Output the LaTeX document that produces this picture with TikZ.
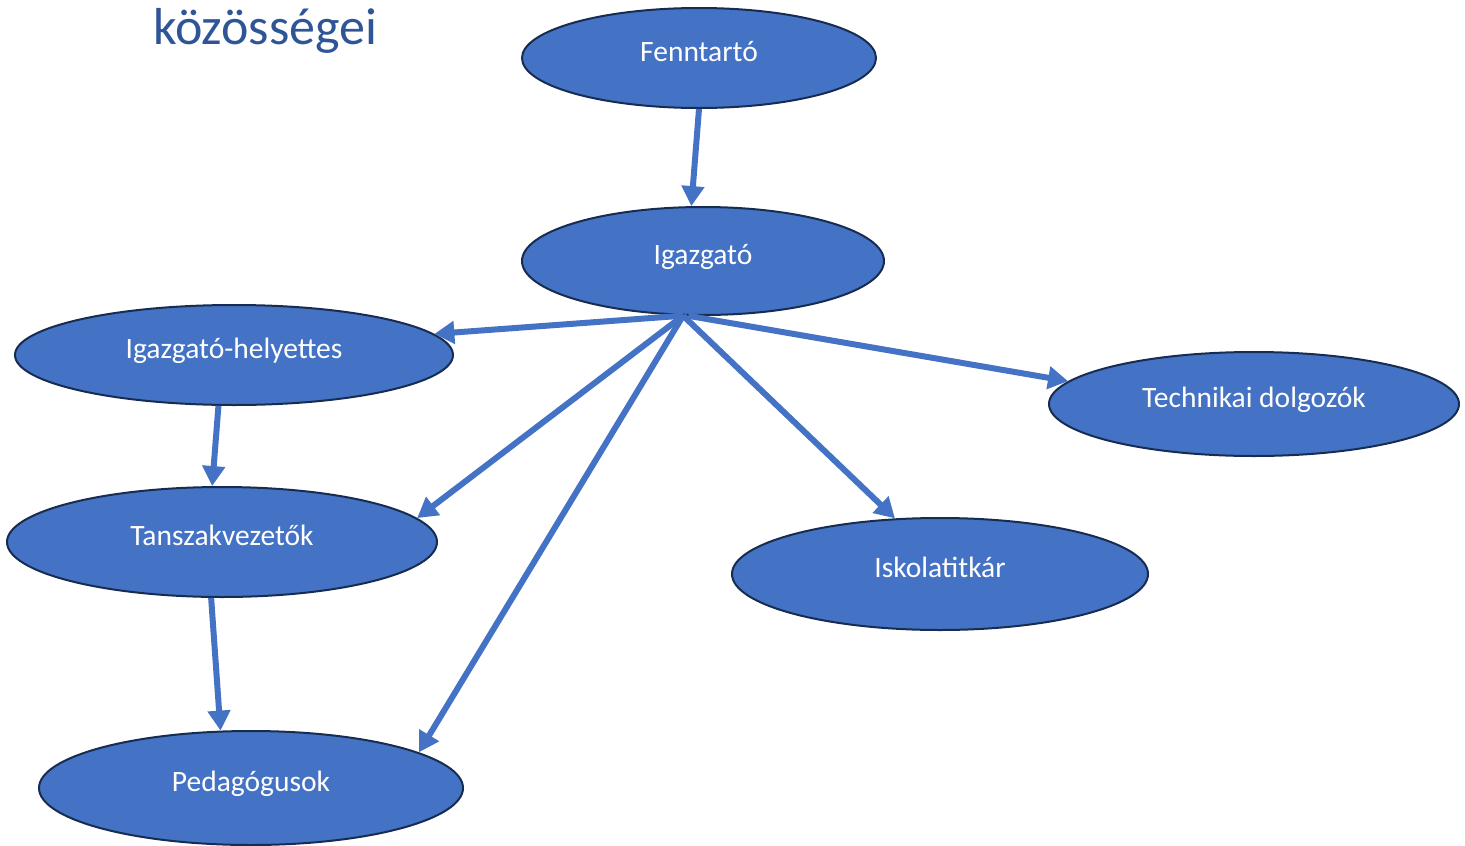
\documentclass[tikz,border=0pt]{standalone}
\usepackage{fontspec}
\setmainfont{Carlito}
\usetikzlibrary{shapes.geometric,arrows.meta}
\definecolor{kekfill}{HTML}{4472C4}
\definecolor{kekvonal}{HTML}{172C51}
\definecolor{cimkek}{HTML}{2F5597}
\begin{document}
\begin{tikzpicture}[x=1pt,y=-1pt]
\tikzstyle{kor}=[ellipse,fill=kekfill,draw=kekvonal,line width=2pt,inner sep=0pt,text=white,text height=20pt,text depth=14pt,font=\fontsize{29.5}{34}\selectfont]
\tikzstyle{nyil}=[kekfill,line width=6pt,-{Triangle[length=20pt,width=22pt]}]
\useasboundingbox (0,0) rectangle (1465,846);

\node[anchor=base west,text=cimkek,font=\fontsize{52}{60}\selectfont,inner sep=0pt] (cim) at (153,44) {közösségei};

% csomopontok
\node(fenn)[kor,minimum width=354pt,minimum height=100pt] at (699,58) {Fenntartó};
\node(igaz)[kor,minimum width=362pt,minimum height=108pt] at (703,261) {Igazgató};
\node(hely)[kor,minimum width=438pt,minimum height=100pt] at (234,355) {Igazgató-helyettes};
\node(tech)[kor,minimum width=410pt,minimum height=104pt] at (1254,404) {Technikai dolgozók};
\node(tansz)[kor,minimum width=430pt,minimum height=110pt] at (222,542) {Tanszakvezetők};
\node(titk)[kor,minimum width=416pt,minimum height=112pt] at (940,574) {Iskolatitkár};
\node(peda)[kor,minimum width=424pt,minimum height=114pt] at (251,788) {Pedagógusok};

% nyilak
\draw[nyil] (fenn.-90) -- (igaz.102);
\draw[nyil] (igaz.-110) -- (hely.6);
\draw[nyil] (igaz.-110) -- (tansz.7);
\draw[nyil] (igaz.-110) -- (peda.12);
\draw[nyil] (igaz.-110) -- (titk.129);
\draw[nyil] (igaz.-105) -- (tech.173);
\draw[nyil] (hely.-107) -- (tansz.100);
\draw[nyil] (tansz.-101) -- (peda.118);

\end{tikzpicture}
\end{document}
